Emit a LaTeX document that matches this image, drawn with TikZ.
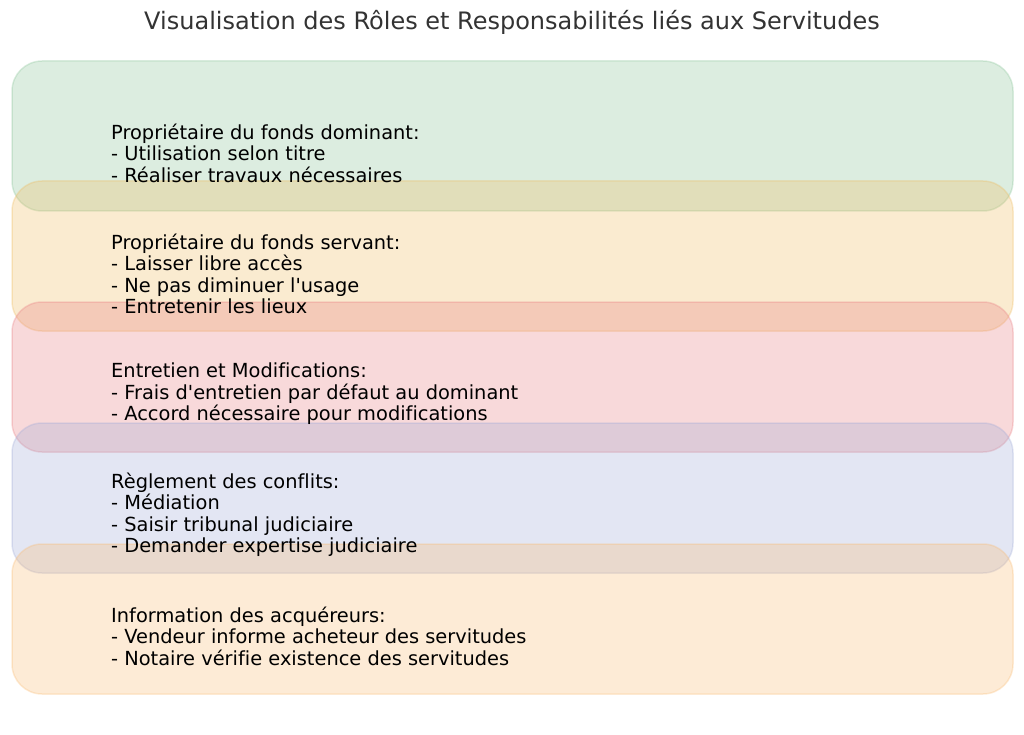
\documentclass[tikz,border=0pt]{standalone}
\usepackage{fontspec}
\setmainfont{DejaVu Sans}[Ligatures={TeXOff,NoCommon}]
\definecolor{dominantgreen}{RGB}{138,195,152}
\definecolor{servantyellow}{RGB}{238,188,98}
\definecolor{entretiencoral}{RGB}{232,128,132}
\definecolor{conflitblue}{RGB}{162,172,215}
\definecolor{infopeach}{RGB}{248,188,118}
\definecolor{titlegray}{RGB}{51,51,51}
\begin{document}
\begin{tikzpicture}[x=1pt, y=-1pt, line join=round,
    rolebox/.style={minimum width=1001pt, minimum height=150pt, rounded corners=30pt, inner sep=0pt, line width=1.5pt, fill opacity=0.3, draw opacity=0.3},
    roletext/.style={anchor=west, align=left, inner sep=0pt, font=\fontsize{19.4}{21.5}\selectfont, text=black}]
    \useasboundingbox (0, 0) rectangle (1024, 735);
    \node[font=\fontsize{24}{28}\selectfont, text=titlegray] (title) at (512, 22) {Visualisation des Rôles et Responsabilités liés aux Servitudes};

    % boxes
    \node[rolebox, fill=dominantgreen, draw=dominantgreen] (dominant) at (512.5, 136) {};
    \node[rolebox, fill=servantyellow, draw=servantyellow] (servant) at (512.5, 256) {};
    \node[rolebox, fill=entretiencoral, draw=entretiencoral] (entretien) at (512.5, 377) {};
    \node[rolebox, fill=conflitblue, draw=conflitblue] (conflit) at (512.5, 498) {};
    \node[rolebox, fill=infopeach, draw=infopeach] (info) at (512.5, 619) {};

    % texts
    \node[roletext] (dominanttxt) at (111, 153) {Propriétaire du fonds dominant:\\- Utilisation selon titre\\- Réaliser travaux nécessaires};
    \node[roletext] (servanttxt) at (111, 274) {Propriétaire du fonds servant:\\- Laisser libre accès\\- Ne pas diminuer l'usage\\- Entretenir les lieux};
    \node[roletext] (entretientxt) at (111, 394) {Entretien et Modifications:\\- Frais d'entretien par défaut au dominant\\- Accord nécessaire pour modifications};
    \node[roletext] (conflittxt) at (111, 515) {Règlement des conflits:\\- Médiation\\- Saisir tribunal judiciaire\\- Demander expertise judiciaire};
    \node[roletext] (infotxt) at (111, 636) {Information des acquéreurs:\\- Vendeur informe acheteur des servitudes\\- Notaire vérifie existence des servitudes};
\end{tikzpicture}
\end{document}
